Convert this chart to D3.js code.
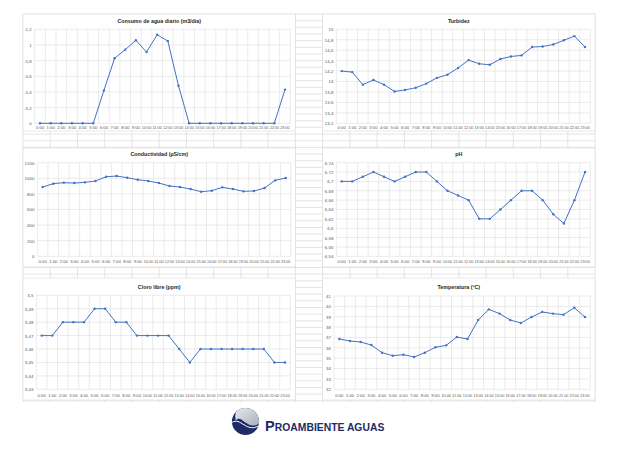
<!DOCTYPE html>
<html>
<head>
<meta charset="utf-8">
<script src="https://cdn.jsdelivr.net/npm/d3@7/dist/d3.min.js"></script>
<style>
  body { margin: 0; background: #fff; }
  svg text { font-family: "Liberation Sans", Arial, sans-serif; }
</style>
</head>
<body>
<svg id="sheet" width="619" height="455"></svg>
<script>
// hourly readings, one value per hour
var hours = ["0:00","1:00","2:00","3:00","4:00","5:00","6:00","7:00","8:00","9:00","10:00","11:00",
             "12:00","13:00","14:00","15:00","16:00","17:00","18:00","19:00","20:00","21:00","22:00","23:00"];

var consumo = [0,0,0,0,0,0,0.42,0.83,0.94,1.06,0.91,1.13,1.05,0.48,0,0,0,0,0,0,0,0,0,0.43];
var turbidez = [14.2,14.18,13.94,14.03,13.94,13.81,13.84,13.88,13.96,14.07,14.13,14.26,
                14.41,14.34,14.32,14.43,14.48,14.5,14.66,14.67,14.71,14.79,14.87,14.66];
var conductividad = [888,931,944,939,948,965,1020,1029,1008,982,965,939,
                     901,888,862,828,841,884,862,833,837,875,974,1003];
var ph = [6.70,6.70,6.71,6.72,6.71,6.70,6.71,6.72,6.72,6.70,6.68,6.67,
          6.66,6.62,6.62,6.64,6.66,6.68,6.68,6.66,6.63,6.61,6.66,6.72];
var cloro = [3.47,3.47,3.48,3.48,3.48,3.49,3.49,3.48,3.48,3.47,3.47,3.47,
             3.47,3.46,3.45,3.46,3.46,3.46,3.46,3.46,3.46,3.46,3.45,3.45];
var temperatura = [36.85,36.66,36.56,36.27,35.53,35.24,35.34,35.12,35.53,36.05,36.24,37.04,
                   36.85,38.68,39.71,39.3,38.68,38.4,38.97,39.46,39.3,39.2,39.87,38.97];

// y axis ticks per chart
var consumoTicks = [0,0.2,0.4,0.6,0.8,1,1.2];
var turbidezTicks = [13.2,13.4,13.6,13.8,14,14.2,14.4,14.6,14.8,15];
var conductividadTicks = [0,200,400,600,800,1000,1200];
var phTicks = [6.54,6.56,6.58,6.6,6.62,6.64,6.66,6.68,6.7,6.72,6.74];
var cloroTicks = [3.43,3.44,3.45,3.46,3.47,3.48,3.49,3.5];
var temperaturaTicks = [32,33,34,35,36,37,38,39,40,41];

var svg = d3.select("#sheet");
var lineColor = "#4472c4";

//spreadsheet cell grid behind the charts
var colW = 27.24, rowH = 6.67;
var sheetLeft = 23, sheetTop = 14, sheetRight = 595, sheetBottom = 402;
var grid = svg.append("g").attr("stroke", "#d4d4d4").attr("stroke-width", 0.6);
d3.range(sheetLeft, sheetRight + 1, colW).forEach(function(x){
   grid.append("line").attr("x1", x).attr("x2", x).attr("y1", sheetTop).attr("y2", sheetBottom);
});
d3.range(sheetTop, sheetBottom, rowH).forEach(function(y){
   grid.append("line").attr("x1", sheetLeft).attr("x2", sheetRight).attr("y1", y).attr("y2", y);
});

function fmt(v){
   return String(+v.toFixed(4)).replace(".", ",");
}

function drawChart(cfg){
   var g = svg.append("g");
   g.append("rect")
      .attr("x", cfg.box[0]).attr("y", cfg.box[1])
      .attr("width", cfg.box[2]).attr("height", cfg.box[3])
      .attr("fill", "#fff").attr("stroke", "#d9d9d9").attr("stroke-width", 0.6);

   g.append("text")
      .attr("x", cfg.box[0] + cfg.box[2] / 2).attr("y", cfg.titleY)
      .attr("text-anchor", "middle")
      .attr("font-size", 5.3).attr("font-weight", "bold").attr("fill", "#262626")
      .text(cfg.title);

   var x = d3.scaleBand().domain(hours).range([cfg.plot[0], cfg.plot[1]]).padding(0);
   var y = d3.scaleLinear().domain(d3.extent(cfg.ticks)).range([cfg.plot[3], cfg.plot[2]]);

   //horizontal gridlines
   g.append("g").selectAll("line")
      .data(cfg.ticks)
      .enter().append("line")
      .attr("x1", cfg.plot[0]).attr("x2", cfg.plot[1])
      .attr("y1", function(d){ return y(d); }).attr("y2", function(d){ return y(d); })
      .attr("stroke", "#dedede").attr("stroke-width", 0.6);

   //vertical gridlines between categories
   var bounds = hours.map(function(h){ return x(h); }).concat([cfg.plot[1]]);
   g.append("g").selectAll("line")
      .data(bounds)
      .enter().append("line")
      .attr("x1", function(d){ return d; }).attr("x2", function(d){ return d; })
      .attr("y1", cfg.plot[2]).attr("y2", cfg.plot[3])
      .attr("stroke", "#dedede").attr("stroke-width", 0.6);

   //y axis labels
   var yAxis = d3.axisLeft(y).tickValues(cfg.ticks).tickSize(0).tickPadding(3).tickFormat(fmt);
   var ya = g.append("g").attr("transform", "translate(" + cfg.plot[0] + ",0)").call(yAxis);
   ya.select(".domain").remove();
   ya.selectAll("text").attr("font-size", 4.4).attr("fill", "#595959")
      .attr("font-family", "Liberation Sans, Arial, sans-serif");

   //x axis labels, squeezed to fit in one category band
   var xAxis = d3.axisBottom(x).tickSize(0).tickPadding(0);
   var xa = g.append("g").attr("transform", "translate(0," + cfg.labelY + ")").call(xAxis);
   xa.select(".domain").remove();
   xa.selectAll("text").attr("font-size", 4.2).attr("fill", "#595959").attr("dy", "0.35em")
      .attr("font-family", "Liberation Sans Narrow, Liberation Sans, Arial, sans-serif")
      .each(function(d){
         if (d.length > 4) d3.select(this).attr("textLength", 9.4).attr("lengthAdjust", "spacingAndGlyphs");
      });

   var line = d3.line()
      .x(function(d, i){ return x(hours[i]) + x.bandwidth() / 2; })
      .y(function(d){ return y(d); });
   g.append("path").datum(cfg.values)
      .attr("d", line)
      .attr("fill", "none").attr("stroke", lineColor).attr("stroke-width", 1);
   g.append("g").selectAll("circle")
      .data(cfg.values)
      .enter().append("circle")
      .attr("cx", function(d, i){ return x(hours[i]) + x.bandwidth() / 2; })
      .attr("cy", function(d){ return y(d); })
      .attr("r", 1.2)
      .attr("fill", lineColor);
}

var charts = [
   {title: "Consumo de agua diario (m3/día)", values: consumo, ticks: consumoTicks,
    box: [23, 14, 272.4, 117], plot: [34.7, 290.3, 29.3, 123.3], titleY: 22.5, labelY: 127.7},
   {title: "Turbidez", values: turbidez, ticks: turbidezTicks,
    box: [322.6, 14, 272.4, 117], plot: [336.4, 590.3, 29.3, 123.3], titleY: 22.5, labelY: 127.7},
   {title: "Conductividad (µS/cm)", values: conductividad, ticks: conductividadTicks,
    box: [23, 148, 272.4, 119], plot: [37.4, 291, 162.7, 256.3], titleY: 156, labelY: 262},
   {title: "pH", values: ph, ticks: phTicks,
    box: [322.6, 148, 272.4, 119], plot: [336.4, 590.3, 162.7, 256.3], titleY: 156, labelY: 262},
   {title: "Cloro libre (ppm)", values: cloro, ticks: cloroTicks,
    box: [23, 278, 272.4, 122], plot: [36.4, 290.3, 295.3, 389.3], titleY: 288.5, labelY: 395.7},
   {title: "Temperatura (°C)", values: temperatura, ticks: temperaturaTicks,
    box: [322.6, 278, 272.4, 122], plot: [334, 590.3, 296, 389.3], titleY: 288.5, labelY: 395.7}
];
charts.forEach(drawChart);

//company logo
var logo = svg.append("g");
var cx = 245.5, cy = 421.5, r = 13.6;
logo.append("clipPath").attr("id", "logoClip")
   .append("circle").attr("cx", cx).attr("cy", cy).attr("r", r);
logo.append("circle").attr("cx", cx).attr("cy", cy).attr("r", r).attr("fill", "#1d2b66");
var lg = svg.append("defs").append("linearGradient").attr("id", "wave")
   .attr("x1", 0).attr("y1", 0).attr("x2", 1).attr("y2", 1);
lg.append("stop").attr("offset", "0%").attr("stop-color", "#e8eaee");
lg.append("stop").attr("offset", "100%").attr("stop-color", "#a9afbb");
logo.append("path")
   .attr("clip-path", "url(#logoClip)")
   .attr("d", "M" + (cx - r + 4) + "," + (cy - 1) +
              " C" + (cx - 4) + "," + (cy - 8) + " " + (cx + 2) + "," + (cy + 10) + " " + (cx + r) + "," + (cy + 2) +
              " L" + (cx + r) + "," + (cy - r) + " L" + (cx - 6) + "," + (cy - r) +
              " A" + (r - 2) + "," + (r - 2) + " 0 0 0 " + (cx - r + 4) + "," + (cy - 1) + " Z")
   .attr("fill", "url(#wave)");
logo.append("path")
   .attr("clip-path", "url(#logoClip)")
   .attr("d", "M" + (cx - r) + "," + (cy + 1) +
              " C" + (cx - 5) + "," + (cy - 5) + " " + (cx + 1) + "," + (cy + 12) + " " + (cx + r) + "," + (cy + 4))
   .attr("fill", "none").attr("stroke", "#ffffff").attr("stroke-width", 1);
logo.append("text").attr("x", 265).attr("y", 430.5)
   .attr("font-size", 14.5).attr("font-weight", "bold").attr("fill", "#1d2b66")
   .text("P");
logo.append("text").attr("x", 274.8).attr("y", 430.5)
   .attr("font-size", 11).attr("font-weight", "bold").attr("fill", "#1d2b66")
   .attr("textLength", 109.5).attr("lengthAdjust", "spacingAndGlyphs")
   .text("ROAMBIENTE AGUAS");
</script>
</body>
</html>
